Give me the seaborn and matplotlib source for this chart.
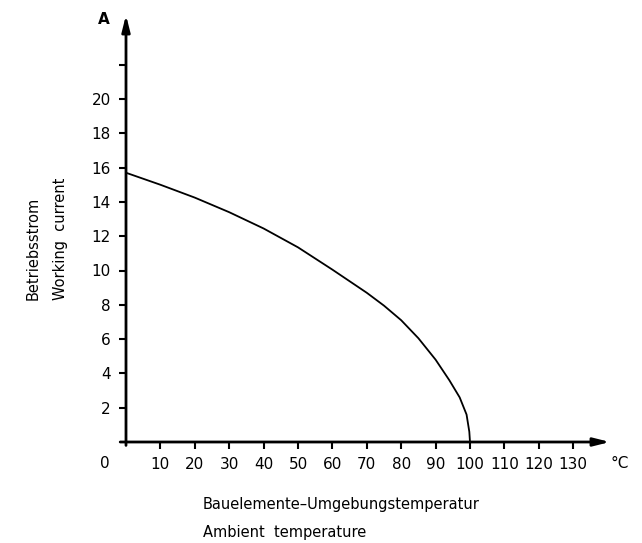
import matplotlib
matplotlib.use("Agg")
import matplotlib.pyplot as plt
import seaborn as sns
import pandas as pd

temperature = [0, 10, 20, 30, 40, 50, 60, 70, 75, 80, 85, 90, 94, 97, 99, 99.8, 100]
current = [15.7, 15.0, 14.25, 13.4, 12.45, 11.35, 10.05, 8.7, 7.95, 7.1, 6.05, 4.8, 3.6, 2.6, 1.6, 0.6, 0.0]
x_ticks = [10, 20, 30, 40, 50, 60, 70, 80, 90, 100, 110, 120, 130]
y_ticks = [2, 4, 6, 8, 10, 12, 14, 16, 18, 20, 22]
y_tick_labels = ["2", "4", "6", "8", "10", "12", "14", "16", "18", "20", ""]

sns.set_theme(style="white")
plt.rcParams['font.family'] = ['DejaVu Sans']
plt.rcParams['text.color'] = 'black'

df = pd.DataFrame({"T": temperature, "I": current})

W, H = 642, 543
fig = plt.figure(figsize=(W / 100, H / 100), dpi=100)
x0, x1 = 126, 610
y0, y1 = 442, 15
ax = fig.add_axes([x0 / W, 1 - y0 / H, (x1 - x0) / W, (y0 - y1) / H])

sns.lineplot(data=df, x="T", y="I", ax=ax, color="black", linewidth=1.3)

xmax = (x1 - x0) / 3.44
ymax = (y0 - y1) / 17.15
ax.set_xlim(0, xmax)
ax.set_ylim(0, ymax)

for s in ax.spines.values():
    s.set_visible(False)

ax.annotate("", xy=(1, 0), xytext=(-0.012, 0), xycoords="axes fraction",
            arrowprops=dict(arrowstyle="-|>,head_length=0.8,head_width=0.2",
                            color="black", lw=2, shrinkA=0, shrinkB=0))
ax.annotate("", xy=(0, 1), xytext=(0, -0.008), xycoords="axes fraction",
            arrowprops=dict(arrowstyle="-|>,head_length=0.8,head_width=0.2",
                            color="black", lw=2, shrinkA=0, shrinkB=0))

ax.set_xticks(x_ticks)
ax.set_xticklabels([str(v) for v in x_ticks])
ax.set_yticks(y_ticks)
ax.set_yticklabels(y_tick_labels)
ax.tick_params(axis="both", which="both", direction="out", length=5, width=1.5,
               color="black", labelsize=11, labelcolor="black", pad=6,
               bottom=True, left=True)
ax.set_xlabel("")
ax.set_ylabel("")

fig.text(105 / W, 1 - 463 / H, "0", ha="center", va="center", fontsize=11, color="black")
fig.text(620 / W, 1 - 464 / H, "°C", ha="center", va="center", fontsize=11, color="black")
fig.text(104 / W, 1 - 20 / H, "A", ha="center", va="center", fontsize=11,
         fontweight="bold", color="black")

fig.text(33 / W, 1 - 300 / H, "Betriebsstrom", rotation=90, ha="center",
         va="bottom", fontsize=10.5, color="black")
fig.text(60 / W, 1 - 300 / H, "Working  current", rotation=90, ha="center",
         va="bottom", fontsize=10.5, color="black")
fig.text(203 / W, 1 - 505 / H, "Bauelemente\u2013Umgebungstemperatur", ha="left",
         va="center", fontsize=10.5, color="black")
fig.text(203 / W, 1 - 533 / H, "Ambient  temperature", ha="left",
         va="center", fontsize=10.5, color="black")

fig.savefig("out.png", dpi=100, facecolor="white")
